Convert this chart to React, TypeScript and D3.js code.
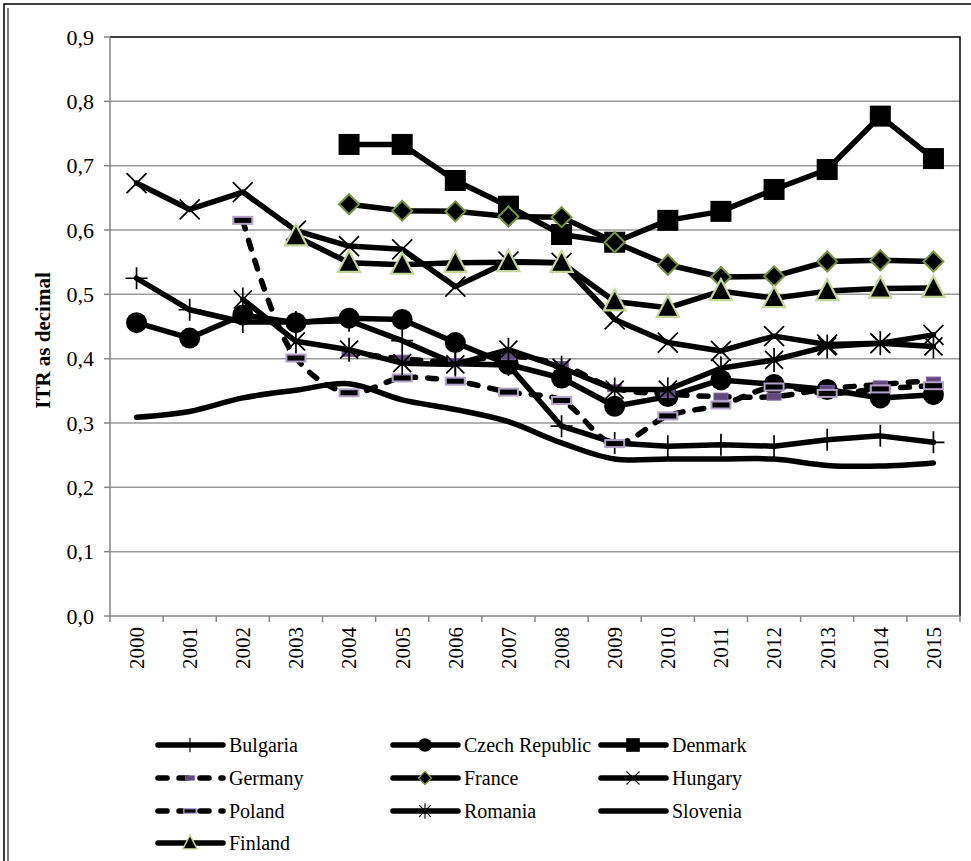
import React, { useEffect, useRef } from "react";
import * as d3 from "d3";

const years = ["2000", "2001", "2002", "2003", "2004", "2005", "2006", "2007", "2008", "2009", "2010", "2011", "2012", "2013", "2014", "2015"];
const yTicks = [0, 0.1, 0.2, 0.3, 0.4, 0.5, 0.6, 0.7, 0.8, 0.9];

const bulgaria = [0.525, 0.476, 0.457, 0.457, 0.459, 0.428, 0.392, 0.39, 0.295, 0.269, 0.264, 0.266, 0.264, 0.274, 0.28, 0.27];
const czech = [0.456, 0.432, 0.468, 0.456, 0.463, 0.461, 0.425, 0.391, 0.37, 0.326, 0.341, 0.367, 0.36, 0.352, 0.339, 0.344];
const denmark = [null, null, null, null, 0.733, 0.733, 0.677, 0.637, 0.593, 0.581, 0.615, 0.629, 0.663, 0.694, 0.777, 0.711];
const germany = [null, null, null, null, 0.409, 0.4, 0.395, 0.404, 0.39, 0.354, 0.345, 0.341, 0.341, 0.353, 0.36, 0.366];
const france = [null, null, null, null, 0.64, 0.63, 0.629, 0.621, 0.62, 0.581, 0.546, 0.527, 0.528, 0.551, 0.553, 0.551];
const hungary = [0.673, 0.632, 0.659, 0.599, 0.575, 0.57, 0.512, 0.551, 0.549, 0.461, 0.425, 0.412, 0.435, 0.422, 0.424, 0.437];
const poland = [null, null, 0.615, 0.401, 0.347, 0.37, 0.365, 0.348, 0.335, 0.268, 0.311, 0.328, 0.356, 0.346, 0.353, 0.358];
const romania = [null, null, 0.492, 0.427, 0.414, 0.393, 0.391, 0.414, 0.386, 0.352, 0.352, 0.385, 0.398, 0.419, 0.424, 0.419];
const slovenia = [0.309, 0.318, 0.339, 0.351, 0.361, 0.336, 0.321, 0.302, 0.269, 0.244, 0.244, 0.244, 0.244, 0.234, 0.233, 0.238];
const finland = [null, null, null, 0.59, 0.549, 0.546, 0.549, 0.55, 0.549, 0.489, 0.479, 0.505, 0.494, 0.505, 0.509, 0.51];

const series = [
  { name: "Bulgaria", values: bulgaria, marker: "plus", dashed: false, smooth: false },
  { name: "Czech Republic", values: czech, marker: "circle", dashed: false, smooth: false },
  { name: "Denmark", values: denmark, marker: "square", dashed: false, smooth: false },
  { name: "Germany", values: germany, marker: "dashFill", dashed: true, smooth: true },
  { name: "France", values: france, marker: "diamond", dashed: false, smooth: false },
  { name: "Hungary", values: hungary, marker: "x", dashed: false, smooth: false },
  { name: "Poland", values: poland, marker: "dashOutline", dashed: true, smooth: true },
  { name: "Romania", values: romania, marker: "star", dashed: false, smooth: false },
  { name: "Slovenia", values: slovenia, marker: "none", dashed: false, smooth: true },
  { name: "Finland", values: finland, marker: "triangle", dashed: false, smooth: false },
];

const FONT = "'Liberation Serif', 'Times New Roman', serif";

function drawMarker(g: any, type: string, cx: number, cy: number) {
  const m = g.append("g").attr("transform", `translate(${cx},${cy})`);
  if (type === "plus") {
    m.append("path").attr("d", "M-11,0H11M0,-11V11").attr("stroke", "#000").attr("stroke-width", 1.7);
  } else if (type === "circle") {
    m.append("circle").attr("r", 10.5).attr("fill", "#000");
  } else if (type === "square") {
    m.append("rect").attr("x", -10.5).attr("y", -10.5).attr("width", 21).attr("height", 21).attr("fill", "#000");
  } else if (type === "diamond") {
    m.append("path").attr("d", "M0,-10L10,0L0,10L-10,0Z").attr("fill", "#000").attr("stroke", "#77933c").attr("stroke-width", 2);
  } else if (type === "x") {
    m.append("path").attr("d", "M-10,-10L10,10M-10,10L10,-10").attr("stroke", "#000").attr("stroke-width", 1.7);
  } else if (type === "star") {
    m.append("path").attr("d", "M-9,-9L9,9M-9,9L9,-9M0,-12V12").attr("stroke", "#000").attr("stroke-width", 1.7);
  } else if (type === "triangle") {
    m.append("path").attr("d", "M0,-12L11,9L-11,9Z").attr("fill", "#000").attr("stroke", "#c3d69b").attr("stroke-width", 2.2);
  } else if (type === "dashFill") {
    m.append("rect").attr("x", -7).attr("y", -3.5).attr("width", 14).attr("height", 7).attr("fill", "#604a7b").attr("stroke", "#8064a2").attr("stroke-width", 1);
  } else if (type === "dashOutline") {
    m.append("rect").attr("x", -9.5).attr("y", -3.5).attr("width", 19).attr("height", 7).attr("fill", "#000").attr("stroke", "#b3a2c7").attr("stroke-width", 2);
  }
}

function Chart() {
  const ref = useRef<SVGSVGElement | null>(null);

  useEffect(() => {
    if (!ref.current) return;
    const width = 971;
    const height = 861;
    const plotLeft = 110;
    const plotRight = 960;
    const plotTop = 37;
    const plotBottom = 616;

    const svg = d3.select(ref.current);
    svg.selectAll("*").remove();

    const x = d3.scaleBand().domain(years).range([plotLeft, plotRight]);
    const y = d3.scaleLinear().domain([0, 0.9]).range([plotBottom, plotTop]);
    const cx = (yr: string) => (x(yr) as number) + x.bandwidth() / 2;

    svg.append("rect").attr("width", width).attr("height", height).attr("fill", "#fff");

    // outer frame (left and top)
    svg.append("path").attr("d", `M4,${height}V4H${width}`).attr("fill", "none").attr("stroke", "#000").attr("stroke-width", 1.5);
    svg.append("path").attr("d", `M8,${height}V8`).attr("fill", "none").attr("stroke", "#000").attr("stroke-width", 1);

    // gridlines
    svg.append("g")
      .selectAll("line")
      .data(yTicks.filter((t) => t > 0 && t < 0.9))
      .join("line")
      .attr("x1", plotLeft)
      .attr("x2", plotRight)
      .attr("y1", (d) => y(d))
      .attr("y2", (d) => y(d))
      .attr("stroke", "#9a9a9a")
      .attr("stroke-width", 1.5);

    // plot border top + right
    svg.append("path")
      .attr("d", `M${plotLeft},${y(0.9)}H${plotRight}V${plotBottom}`)
      .attr("fill", "none")
      .attr("stroke", "#000")
      .attr("stroke-width", 1.5);

    // y axis
    const yAxis = svg.append("g");
    yAxis.append("line").attr("x1", plotLeft).attr("x2", plotLeft).attr("y1", plotTop).attr("y2", plotBottom).attr("stroke", "#868686").attr("stroke-width", 1.5);
    yAxis.selectAll("line.tick")
      .data(yTicks)
      .join("line")
      .attr("class", "tick")
      .attr("x1", plotLeft - 6)
      .attr("x2", plotLeft)
      .attr("y1", (d) => y(d))
      .attr("y2", (d) => y(d))
      .attr("stroke", "#868686")
      .attr("stroke-width", 1.5);
    yAxis.selectAll("text")
      .data(yTicks)
      .join("text")
      .attr("x", plotLeft - 16)
      .attr("y", (d) => y(d))
      .attr("dy", "0.35em")
      .attr("text-anchor", "end")
      .attr("font-family", FONT)
      .attr("font-size", 22)
      .text((d) => d3.format(".1f")(d).replace(".", ","));

    // x axis
    const xAxis = svg.append("g");
    xAxis.append("line").attr("x1", plotLeft).attr("x2", plotRight).attr("y1", plotBottom).attr("y2", plotBottom).attr("stroke", "#868686").attr("stroke-width", 1.5);
    const bounds = years.map((d) => x(d) as number).concat([plotRight]);
    xAxis.selectAll("line.tick")
      .data(bounds)
      .join("line")
      .attr("class", "tick")
      .attr("x1", (d) => d)
      .attr("x2", (d) => d)
      .attr("y1", plotBottom)
      .attr("y2", plotBottom + 6)
      .attr("stroke", "#868686")
      .attr("stroke-width", 1.5);
    xAxis.selectAll("text")
      .data(years)
      .join("text")
      .attr("transform", (d) => `translate(${cx(d)},${plotBottom + 11}) rotate(-90)`)
      .attr("dy", "0.35em")
      .attr("text-anchor", "end")
      .attr("font-family", FONT)
      .attr("font-size", 21)
      .text((d) => d);

    // y title
    svg.append("text")
      .attr("transform", `translate(43,${(plotTop + plotBottom) / 2 + 14}) rotate(-90)`)
      .attr("dy", "0.35em")
      .attr("text-anchor", "middle")
      .attr("font-family", FONT)
      .attr("font-weight", "bold")
      .attr("font-size", 21)
      .text("ITR as decimal");

    // series
    const plot = svg.append("g");
    series.forEach((s) => {
      const pts = years.map((yr, i) => ({ yr, v: s.values[i] }));
      const line = d3.line<any>()
        .defined((d) => d.v != null)
        .x((d) => cx(d.yr))
        .y((d) => y(d.v))
        .curve(s.smooth ? d3.curveCatmullRom : d3.curveLinear);
      plot.append("path")
        .attr("d", line(pts))
        .attr("fill", "none")
        .attr("stroke", "#000")
        .attr("stroke-width", 5.5)
        .attr("stroke-linejoin", "round")
        .attr("stroke-linecap", "round")
        .attr("stroke-dasharray", s.dashed ? "9 12" : null);
      pts.filter((d) => d.v != null).forEach((d) => drawMarker(plot, s.marker, cx(d.yr), y(d.v as number)));
    });

    // legend
    const colX = [155, 390, 598];
    const rowY = [745, 778, 811, 843];
    const legend = svg.append("g");
    series.forEach((s, i) => {
      const lx = colX[i % 3];
      const ly = rowY[Math.floor(i / 3)];
      const g = legend.append("g");
      g.append("line")
        .attr("x1", lx + 3)
        .attr("x2", lx + 68)
        .attr("y1", ly)
        .attr("y2", ly)
        .attr("stroke", "#000")
        .attr("stroke-width", 5.5)
        .attr("stroke-linecap", "round")
        .attr("stroke-dasharray", s.dashed ? "9 12" : null);
      if (s.marker !== "none") {
        const mg = g.append("g").attr("transform", `translate(${lx + 35},${ly}) scale(0.65)`);
        drawMarker(mg, s.marker, 0, 0);
      }
      g.append("text")
        .attr("x", lx + 74)
        .attr("y", ly)
        .attr("dy", "0.35em")
        .attr("font-family", FONT)
        .attr("font-size", 20)
        .text(s.name);
    });
  }, []);

  return <svg ref={ref} width={971} height={861} style={{ position: "absolute", left: 0, top: 0 }} />;
}

export default function App() {
  return <Chart />;
}
